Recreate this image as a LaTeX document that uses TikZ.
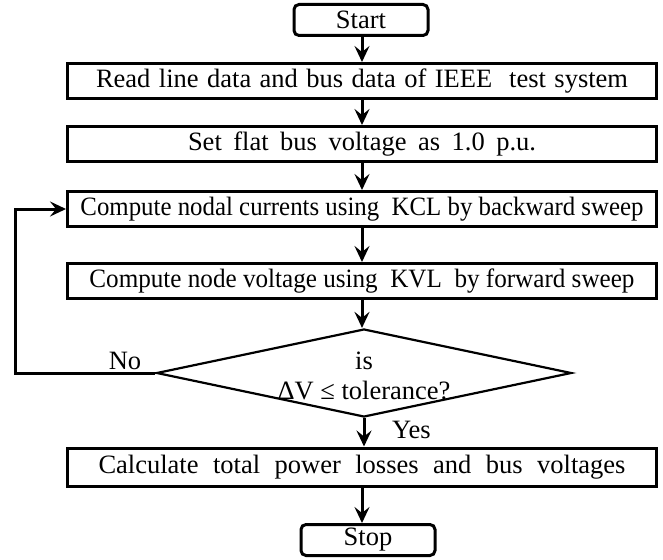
\documentclass[tikz,border=0pt]{standalone}
\usepackage{fontspec}
\usepackage{graphicx}
\setmainfont{Liberation Serif}
\usetikzlibrary{arrows.meta, shapes.geometric, positioning}
\newcommand{\flowfont}{\fontsize{26.5}{30}\selectfont}
% spread or squeeze a line of text to a given width
\newcommand{\spreadto}[2]{\makebox[#1][s]{#2}}
\newcommand{\squeezeto}[2]{\resizebox{#1}{\height}{#2}}
\tikzset{
  procbox/.style  = {draw, line width=3pt, minimum width=589pt, minimum height=35pt,
                     inner sep=0pt, font=\flowfont},
  termbox/.style  = {draw, rounded corners=5pt, line width=3pt, minimum width=134pt,
                     minimum height=31pt, inner sep=0pt, font=\flowfont},
  decision/.style = {diamond, draw, line width=2.2pt, minimum width=415pt,
                     minimum height=88pt, inner sep=0pt},
  flowarrow/.style = {-{Stealth[length=16pt, width=15pt, inset=6pt]}, line width=3pt},
  answer/.style   = {font=\flowfont, inner sep=0pt},
}

\begin{document}
\begin{tikzpicture}[x=1pt, y=-1pt]
  \useasboundingbox (0,0) rectangle (663,559);
  \node[termbox] (start) at (361,20) {Start};
  \node[procbox] (read) at (362,81) {\spreadto{532pt}{Read line data and bus data of IEEE\ \ test system}};
  \node[procbox] (flat) at (362,144) {\spreadto{348pt}{Set flat bus voltage as 1.0~p.u.}};
  \node[procbox] (kcl) at (362,209) {\squeezeto{563pt}{Compute nodal currents using\ \ KCL by backward sweep}};
  \node[procbox] (kvl) at (362,281) {\squeezeto{545pt}{Compute node voltage using\ \ KVL\ \ by forward sweep}};
  \node[decision] (check) at (364,373) {};
  \node[font=\flowfont, align=center, inner sep=0pt] (checktxt) at (364,376) {is\\ΔV ≤ tolerance?};
  \node[procbox, minimum height=38pt] (calc) at (362,467) {\spreadto{527pt}{Calculate total power losses and bus voltages}};
  \node[termbox] (stop) at (368,540) {Stop};
  \coordinate (loopleft) at (15,0);

  \draw[flowarrow] (start.south -| read) -- (read);
  \draw[flowarrow] (read) -- (flat);
  \draw[flowarrow] (flat) -- (kcl);
  \draw[flowarrow] (kcl) -- (kvl);
  \draw[flowarrow] (kvl.south) -- (kvl.south |- check.north);
  \draw[flowarrow] (check.south) -- (check.south |- calc.north);
  \draw[flowarrow] (calc.south -| read) -- (read |- stop.north);
  % back to the KCL step while the tolerance is not met
  \draw[flowarrow] (check.west) -- (check.west -| loopleft) |- (kcl.west);
  \node[answer] (no) at (125,361) {No};
  \node[answer, anchor=west] (yes) at (392,430) {Yes};
\end{tikzpicture}
\end{document}
